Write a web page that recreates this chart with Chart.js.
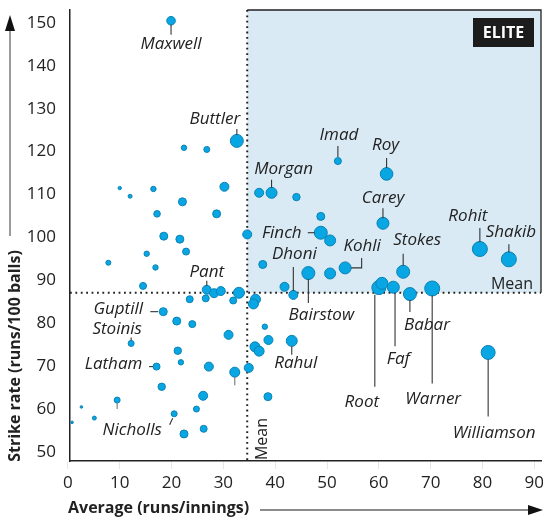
<!DOCTYPE html>
<html>
<head>
<meta charset="utf-8">
<script src="https://cdn.jsdelivr.net/npm/chart.js@4/dist/chart.umd.min.js"></script>
<style>
  html, body { margin: 0; padding: 0; background: #fff; }
  #wrap { width: 543px; height: 518px; position: relative; }
</style>
</head>
<body>
<div id="wrap"><canvas id="chart" width="543" height="518"></canvas></div>
<script>
// batting average (runs/innings) and strike rate (runs/100 balls), one entry per player
const average = [19.9, 32.6, 22.4, 26.8, 30.2, 10.0, 12.0, 16.5, 22.1, 17.2,
                 28.7, 18.5, 21.6, 34.6, 15.2, 22.8, 36.9, 39.3, 52.1, 61.5,
                 44.1, 48.8, 60.8, 48.8, 50.6, 79.5, 85.1, 37.6, 46.4, 50.6,
                 53.5, 64.7, 41.8, 43.5, 60.0, 60.6, 62.8, 66.0, 70.3, 33.0,
                 36.2, 35.8, 7.8, 16.9, 14.5, 26.8, 28.2, 29.5, 26.6, 23.5,
                 31.9, 18.4, 21.0, 24.0, 12.2, 21.2, 21.8, 31.0, 38.0, 38.7,
                 36.1, 36.9, 17.1, 27.2, 32.2, 34.9, 18.1, 26.1, 38.6, 9.5,
                 2.6, 24.8, 20.5, 5.1, 0.8, 22.4, 26.2, 43.2, 81.1];
const strikeRate = [150.5, 122.5, 120.9, 120.5, 111.8, 111.5, 109.6, 111.3, 108.3, 105.5,
                    105.5, 100.3, 99.6, 100.7, 96.2, 96.7, 110.4, 110.4, 117.8, 114.8,
                    109.4, 104.9, 103.3, 101.1, 99.3, 97.3, 94.9, 93.7, 91.7, 91.6,
                    92.9, 92.0, 88.5, 86.6, 88.3, 89.3, 88.4, 86.8, 88.1, 87.1,
                    85.6, 84.5, 94.1, 93.0, 88.7, 87.8, 87.0, 87.5, 85.8, 85.6,
                    85.3, 82.7, 80.5, 79.8, 75.3, 73.6, 70.9, 77.3, 79.2, 76.1,
                    74.5, 73.5, 69.9, 69.9, 68.6, 69.6, 65.2, 63.1, 62.9, 62.1,
                    60.5, 60.0, 58.9, 57.9, 56.9, 54.2, 55.4, 75.9, 73.2];
// bubble size (radius)
const bubbleSize = [4.3, 6.5, 2.7, 3, 4.5, 1.7, 2, 2.7, 4, 3.3,
                    4, 4, 4, 4.5, 2.7, 3.5, 4.5, 5.5, 3.5, 6.3,
                    3.7, 4, 6, 6.5, 5.5, 7.5, 7.5, 4, 6.5, 5.5,
                    6, 6.5, 4.5, 4.5, 7, 6, 6, 6.5, 7.5, 5.5,
                    5, 5, 2.5, 2.7, 3.5, 4.5, 4.5, 4.5, 3.5, 3.5,
                    3.5, 4, 4, 3.5, 3, 3.7, 2.7, 4.5, 2.7, 4.5,
                    5, 5, 3.5, 4.5, 5, 4.5, 3.7, 4.5, 4, 3,
                    1.3, 3, 3, 2, 1.3, 4, 3.5, 5.5, 7];
const playerName = ['Maxwell', 'Buttler', '', '', '', '', '', '', '', '',
                    '', '', '', '', '', '', '', 'Morgan', 'Imad', 'Roy',
                    '', '', 'Carey', 'Finch', '', 'Rohit', 'Shakib', '', 'Bairstow', '',
                    'Kohli', 'Stokes', '', 'Dhoni', 'Root', '', 'Faf', 'Babar', 'Warner', '',
                    '', '', '', '', '', 'Pant', '', '', '', '',
                    '', 'Guptill', '', '', 'Stoinis', '', '', '', '', '',
                    '', '', 'Latham', '', '', '', '', '', '', '',
                    '', '', 'Nicholls', '', '', '', '', 'Rahul', 'Williamson'];
const meanAverage = 34.6;
const meanStrikeRate = 87.1;
const xTicks = [0, 10, 20, 30, 40, 50, 60, 70, 80, 90];
const yTicks = [50, 60, 70, 80, 90, 100, 110, 120, 130, 140, 150];

// callout placement (pixel offsets from the bubble): text centre + leader line
const callouts = {
  Maxwell:    { dx: 0, dy: 23, line: [[0, 4], [0, 14]] },
  Buttler:    { dx: -22, dy: -22, line: [[0, -6], [0, -12]] },
  Imad:       { dx: 1, dy: -26, line: [[0, -4], [0, -15]] },
  Roy:        { dx: -1, dy: -29, line: [[0, -6], [0, -16]] },
  Morgan:     { dx: 12, dy: -24, line: [[0, -5], [0, -13]] },
  Carey:      { dx: 0, dy: -25, line: [[0, -5], [0, -15]] },
  Finch:      { dx: -39, dy: 0, line: [[-13, 0], [-6, 0]] },
  Kohli:      { dx: 17, dy: -22, line: [[6, 0], [16.5, 0], [16.5, -10]] },
  Stokes:     { dx: 14, dy: -32, line: [[0, -6], [0, -18]] },
  Rohit:      { dx: -12, dy: -33, line: [[0, -7], [0, -21]] },
  Shakib:     { dx: 2, dy: -27, line: [[0, -7], [0, -15]] },
  Dhoni:      { dx: 1, dy: -41, line: [[0, -28], [0, -4]] },
  Bairstow:   { dx: 13, dy: 42, line: [[0, 6], [0, 30]] },
  Root:       { dx: -17, dy: 115, line: [[-4, 7], [-4, 99]] },
  Faf:        { dx: 5, dy: 72, line: [[1.7, 6], [1.7, 59]] },
  Babar:      { dx: 17, dy: 31, line: [[0, 6], [0, 18]] },
  Warner:     { dx: 1, dy: 111, line: [[0, 7], [0, 95]] },
  Williamson: { dx: 6, dy: 81, line: [[0, 7], [0, 64]] },
  Rahul:      { dx: 4, dy: 22, line: [[0, 5.5], [0, 14]] },
  Pant:       { dx: 0, dy: -18, line: [[0, -9], [0, -4]] },
  Guptill:    { dx: -45, dy: -3, line: [[-13, 0], [-5, 0]] },
  Stoinis:    { dx: -14, dy: -14, line: [[0, -6], [0, -3]] },
  Latham:     { dx: -43, dy: -2, line: [[-7.5, 0], [-3.5, 0]] },
  Nicholls:   { dx: -42, dy: 16, line: [[-1.5, 4.5], [-4.5, 11]] }
};
// leader stubs on unlabelled bubbles (index, pixel offsets)
const stubs = [
  { i: 64, line: [[0, 4.5], [0, 13]] },
  { i: 69, line: [[0, 3], [0, 9]] }
];

const INK = '#222';
const FONT = '"Open Sans", "DejaVu Sans", sans-serif';

const points = average.map((a, i) => ({ x: a, y: strikeRate[i], r: bubbleSize[i] }));

function drawDotted(ctx, x1, y1, x2, y2) {
  ctx.save();
  ctx.strokeStyle = INK;
  ctx.lineWidth = 2;
  ctx.setLineDash([1.8, 3.6]);
  ctx.beginPath();
  ctx.moveTo(x1, y1);
  ctx.lineTo(x2, y2);
  ctx.stroke();
  ctx.restore();
}

function noPadding(s) {
  s.paddingTop = 0;
  s.paddingBottom = 0;
  s.paddingLeft = 0;
  s.paddingRight = 0;
}

function drawLeader(ctx, px, py, line) {
  ctx.beginPath();
  line.forEach((p, k) => {
    if (k === 0) ctx.moveTo(px + p[0], py + p[1]);
    else ctx.lineTo(px + p[0], py + p[1]);
  });
  ctx.stroke();
}

const elitePlugin = {
  id: 'elite',
  beforeDatasetsDraw(chart) {
    const { ctx, chartArea: a, scales: { x, y } } = chart;
    const mx = x.getPixelForValue(meanAverage);
    const my = y.getPixelForValue(meanStrikeRate);
    ctx.save();
    ctx.fillStyle = '#d9eaf4';
    ctx.fillRect(mx, a.top, a.right - mx, my - a.top);
    ctx.strokeStyle = INK;
    ctx.lineWidth = 1.3;
    ctx.beginPath();
    ctx.moveTo(mx, a.top);
    ctx.lineTo(a.right, a.top);
    ctx.lineTo(a.right, my);
    ctx.stroke();
    ctx.restore();
    drawDotted(ctx, mx, a.top, mx, a.bottom);
    drawDotted(ctx, a.left, my, a.right, my);

    ctx.save();
    ctx.fillStyle = INK;
    ctx.font = '16px ' + FONT;
    ctx.textAlign = 'right';
    ctx.textBaseline = 'alphabetic';
    ctx.fillText('Mean', a.right - 8, my - 4);
    ctx.translate(mx + 15, a.bottom - 22);
    ctx.rotate(-Math.PI / 2);
    ctx.textAlign = 'center';
    ctx.textBaseline = 'middle';
    ctx.fillText('Mean', 0, 0);
    ctx.restore();

    // ELITE tag
    ctx.save();
    ctx.fillStyle = '#1c1c1c';
    ctx.fillRect(a.right - 68, a.top + 8, 61, 29);
    ctx.fillStyle = '#fff';
    ctx.font = 'bold 16px ' + FONT;
    ctx.textAlign = 'center';
    ctx.textBaseline = 'middle';
    ctx.fillText('ELITE', a.right - 37.5, a.top + 23);
    ctx.restore();
  },
  afterDatasetsDraw(chart) {
    const { ctx, scales: { x, y } } = chart;
    ctx.save();
    ctx.font = 'italic 17px ' + FONT;
    ctx.textAlign = 'center';
    ctx.textBaseline = 'middle';
    ctx.strokeStyle = '#333';
    ctx.lineWidth = 1.1;
    playerName.forEach((name, i) => {
      const c = callouts[name];
      if (!name || !c) return;
      const px = x.getPixelForValue(average[i]);
      const py = y.getPixelForValue(strikeRate[i]);
      drawLeader(ctx, px, py, c.line);
      ctx.fillStyle = INK;
      ctx.fillText(name, px + c.dx, py + c.dy);
    });
    ctx.strokeStyle = '#777';
    stubs.forEach(s => {
      drawLeader(ctx, x.getPixelForValue(average[s.i]), y.getPixelForValue(strikeRate[s.i]), s.line);
    });
    ctx.restore();
  },
  afterDraw(chart) {
    const { ctx } = chart;
    ctx.save();
    ctx.fillStyle = INK;
    ctx.font = 'bold 16px ' + FONT;
    ctx.textBaseline = 'middle';
    ctx.textAlign = 'left';
    ctx.fillText('Average (runs/innings)', 68, 508);
    ctx.save();
    ctx.translate(15, 356);
    ctx.rotate(-Math.PI / 2);
    ctx.textAlign = 'center';
    ctx.fillText('Strike rate (runs/100 balls)', 0, 0);
    ctx.restore();

    // axis arrows
    ctx.strokeStyle = '#666';
    ctx.lineWidth = 1.3;
    ctx.beginPath();
    ctx.moveTo(10, 236);
    ctx.lineTo(10, 28);
    ctx.moveTo(260, 510);
    ctx.lineTo(532, 510);
    ctx.stroke();
    ctx.fillStyle = '#111';
    ctx.beginPath();
    ctx.moveTo(10, 15);
    ctx.lineTo(15, 31);
    ctx.lineTo(5, 31);
    ctx.closePath();
    ctx.fill();
    ctx.beginPath();
    ctx.moveTo(543, 510);
    ctx.lineTo(528, 505);
    ctx.lineTo(528, 515);
    ctx.closePath();
    ctx.fill();
    ctx.restore();
  }
};

new Chart(document.getElementById('chart'), {
  type: 'bubble',
  data: {
    datasets: [{
      data: points,
      backgroundColor: '#08a6e2',
      borderColor: '#0b82b5',
      borderWidth: 1,
      clip: false
    }]
  },
  options: {
    responsive: false,
    animation: false,
    events: [],
    layout: { autoPadding: false, padding: { top: 10, right: 2, left: 0, bottom: 0 } },
    plugins: { legend: { display: false }, tooltip: { enabled: false } },
    scales: {
      x: {
        type: 'linear',
        min: 0.4,
        max: 91.3,
        afterBuildTicks: s => { s.ticks = xTicks.map(v => ({ value: v })); },
        afterFit: s => { s.height = 57; noPadding(s); },
        grid: { drawOnChartArea: false, drawTicks: true, tickLength: 8, tickColor: '#e6e6e6' },
        border: { color: INK, width: 1.5 },
        ticks: { padding: 4, color: INK, font: { family: FONT, size: 17 }, maxRotation: 0 }
      },
      y: {
        type: 'linear',
        min: 47.9,
        max: 153.0,
        afterBuildTicks: s => { s.ticks = yTicks.map(v => ({ value: v })); },
        afterFit: s => { s.width = 70; noPadding(s); },
        grid: { display: false, drawTicks: false },
        border: { color: INK, width: 1.5 },
        ticks: { padding: 14, color: INK, font: { family: FONT, size: 17 } }
      }
    }
  },
  plugins: [elitePlugin]
});
</script>
</body>
</html>
